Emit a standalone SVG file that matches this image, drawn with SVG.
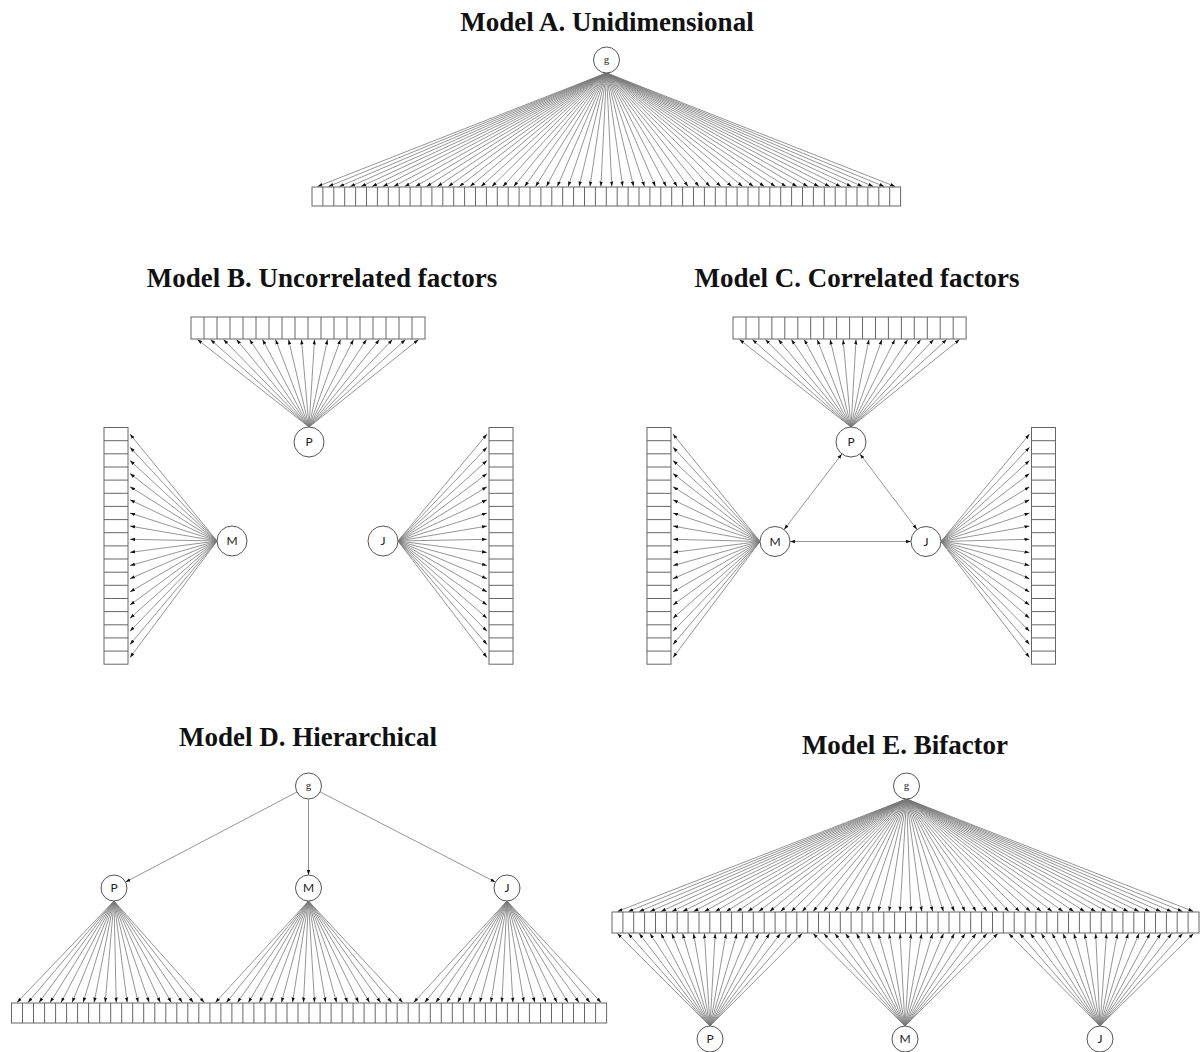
<svg xmlns="http://www.w3.org/2000/svg" width="1201" height="1052" viewBox="0 0 1201 1052">
<style>
.t{font-family:"Liberation Serif","Times New Roman",serif;font-weight:bold;font-size:27px;fill:#111;text-anchor:middle}
.l{stroke:#7a7a7a;stroke-width:0.8;fill:none;marker-end:url(#ah)}
.d{marker-start:url(#ah)}
.c{fill:#fff;stroke:#555;stroke-width:1}
.r{fill:#fff;stroke:#666;stroke-width:1}
.dv{fill:none;stroke:#666;stroke-width:1}
.lb{font-family:Lato,"Open Sans","Liberation Sans",sans-serif;font-size:12px;fill:#222;text-anchor:middle}
.lg{font-family:"Liberation Serif",serif;font-size:11px;fill:#222;text-anchor:middle}
</style>
<defs>
<marker id="ah" viewBox="0 0 6 4" refX="6" refY="2" markerWidth="5" markerHeight="4" markerUnits="userSpaceOnUse" orient="auto-start-reverse"><path d="M0 0L6 2L0 4z" fill="#111"/></marker>
</defs>
<rect width="1201" height="1052" fill="#fff"/>
<g id="titles">
<text class="t" x="607" y="31">Model A. Unidimensional</text>
<text class="t" x="322" y="287">Model B. Uncorrelated factors</text>
<text class="t" x="857" y="287">Model C. Correlated factors</text>
<text class="t" x="308" y="746">Model D. Hierarchical</text>
<text class="t" x="905" y="754">Model E. Bifactor</text>
</g>
<g id="connectors">
<g id="A-loadings">
<path class="l" d="M606.5 73L317.5 186.5"/><path class="l" d="M606.5 73L328.4 186.5"/><path class="l" d="M606.5 73L339.3 186.5"/><path class="l" d="M606.5 73L350.2 186.5"/><path class="l" d="M606.5 73L361.1 186.5"/><path class="l" d="M606.5 73L372 186.5"/><path class="l" d="M606.5 73L382.9 186.5"/><path class="l" d="M606.5 73L393.8 186.5"/><path class="l" d="M606.5 73L404.7 186.5"/><path class="l" d="M606.5 73L415.6 186.5"/><path class="l" d="M606.5 73L426.5 186.5"/><path class="l" d="M606.5 73L437.4 186.5"/><path class="l" d="M606.5 73L448.3 186.5"/><path class="l" d="M606.5 73L459.2 186.5"/><path class="l" d="M606.5 73L470.1 186.5"/><path class="l" d="M606.5 73L481 186.5"/><path class="l" d="M606.5 73L491.9 186.5"/><path class="l" d="M606.5 73L502.8 186.5"/><path class="l" d="M606.5 73L513.7 186.5"/><path class="l" d="M606.5 73L524.6 186.5"/><path class="l" d="M606.5 73L535.5 186.5"/><path class="l" d="M606.5 73L546.4 186.5"/><path class="l" d="M606.5 73L557.3 186.5"/><path class="l" d="M606.5 73L568.2 186.5"/><path class="l" d="M606.5 73L579.1 186.5"/><path class="l" d="M606.5 73L590 186.5"/><path class="l" d="M606.5 73L600.9 186.5"/><path class="l" d="M606.5 73L611.8 186.5"/><path class="l" d="M606.5 73L622.7 186.5"/><path class="l" d="M606.5 73L633.6 186.5"/><path class="l" d="M606.5 73L644.5 186.5"/><path class="l" d="M606.5 73L655.4 186.5"/><path class="l" d="M606.5 73L666.3 186.5"/><path class="l" d="M606.5 73L677.2 186.5"/><path class="l" d="M606.5 73L688.1 186.5"/><path class="l" d="M606.5 73L699 186.5"/><path class="l" d="M606.5 73L709.9 186.5"/><path class="l" d="M606.5 73L720.8 186.5"/><path class="l" d="M606.5 73L731.7 186.5"/><path class="l" d="M606.5 73L742.6 186.5"/><path class="l" d="M606.5 73L753.5 186.5"/><path class="l" d="M606.5 73L764.4 186.5"/><path class="l" d="M606.5 73L775.3 186.5"/><path class="l" d="M606.5 73L786.2 186.5"/><path class="l" d="M606.5 73L797.1 186.5"/><path class="l" d="M606.5 73L808 186.5"/><path class="l" d="M606.5 73L818.9 186.5"/><path class="l" d="M606.5 73L829.8 186.5"/><path class="l" d="M606.5 73L840.7 186.5"/><path class="l" d="M606.5 73L851.6 186.5"/><path class="l" d="M606.5 73L862.5 186.5"/><path class="l" d="M606.5 73L873.4 186.5"/><path class="l" d="M606.5 73L884.3 186.5"/><path class="l" d="M606.5 73L895.2 186.5"/>
</g>
<g id="B-loadings">
<path class="l" d="M309 427L197.5 339.5"/><path class="l" d="M309 427L210.5 339.5"/><path class="l" d="M309 427L223.5 339.5"/><path class="l" d="M309 427L236.5 339.5"/><path class="l" d="M309 427L249.5 339.5"/><path class="l" d="M309 427L262.5 339.5"/><path class="l" d="M309 427L275.5 339.5"/><path class="l" d="M309 427L288.5 339.5"/><path class="l" d="M309 427L301.5 339.5"/><path class="l" d="M309 427L314.5 339.5"/><path class="l" d="M309 427L327.5 339.5"/><path class="l" d="M309 427L340.5 339.5"/><path class="l" d="M309 427L353.5 339.5"/><path class="l" d="M309 427L366.5 339.5"/><path class="l" d="M309 427L379.5 339.5"/><path class="l" d="M309 427L392.5 339.5"/><path class="l" d="M309 427L405.5 339.5"/><path class="l" d="M309 427L418.5 339.5"/>
<path class="l" d="M217 541L130 434.1"/><path class="l" d="M217 541L130 447.2"/><path class="l" d="M217 541L130 460.4"/><path class="l" d="M217 541L130 473.5"/><path class="l" d="M217 541L130 486.7"/><path class="l" d="M217 541L130 499.8"/><path class="l" d="M217 541L130 513"/><path class="l" d="M217 541L130 526.1"/><path class="l" d="M217 541L130 539.3"/><path class="l" d="M217 541L130 552.4"/><path class="l" d="M217 541L130 565.6"/><path class="l" d="M217 541L130 578.7"/><path class="l" d="M217 541L130 591.9"/><path class="l" d="M217 541L130 605"/><path class="l" d="M217 541L130 618.2"/><path class="l" d="M217 541L130 631.3"/><path class="l" d="M217 541L130 644.5"/><path class="l" d="M217 541L130 657.6"/>
<path class="l" d="M398 541L487 434.1"/><path class="l" d="M398 541L487 447.2"/><path class="l" d="M398 541L487 460.4"/><path class="l" d="M398 541L487 473.5"/><path class="l" d="M398 541L487 486.7"/><path class="l" d="M398 541L487 499.8"/><path class="l" d="M398 541L487 513"/><path class="l" d="M398 541L487 526.1"/><path class="l" d="M398 541L487 539.3"/><path class="l" d="M398 541L487 552.4"/><path class="l" d="M398 541L487 565.6"/><path class="l" d="M398 541L487 578.7"/><path class="l" d="M398 541L487 591.9"/><path class="l" d="M398 541L487 605"/><path class="l" d="M398 541L487 618.2"/><path class="l" d="M398 541L487 631.3"/><path class="l" d="M398 541L487 644.5"/><path class="l" d="M398 541L487 657.6"/>
</g>
<g id="C-loadings">
<path class="l" d="M851 427L739.5 339.5"/><path class="l" d="M851 427L752.4 339.5"/><path class="l" d="M851 427L765.4 339.5"/><path class="l" d="M851 427L778.3 339.5"/><path class="l" d="M851 427L791.3 339.5"/><path class="l" d="M851 427L804.2 339.5"/><path class="l" d="M851 427L817.2 339.5"/><path class="l" d="M851 427L830.1 339.5"/><path class="l" d="M851 427L843.1 339.5"/><path class="l" d="M851 427L856 339.5"/><path class="l" d="M851 427L869 339.5"/><path class="l" d="M851 427L881.9 339.5"/><path class="l" d="M851 427L894.9 339.5"/><path class="l" d="M851 427L907.8 339.5"/><path class="l" d="M851 427L920.8 339.5"/><path class="l" d="M851 427L933.7 339.5"/><path class="l" d="M851 427L946.7 339.5"/><path class="l" d="M851 427L959.6 339.5"/>
<path class="l" d="M760 541.5L673 434.1"/><path class="l" d="M760 541.5L673 447.2"/><path class="l" d="M760 541.5L673 460.4"/><path class="l" d="M760 541.5L673 473.5"/><path class="l" d="M760 541.5L673 486.7"/><path class="l" d="M760 541.5L673 499.8"/><path class="l" d="M760 541.5L673 513"/><path class="l" d="M760 541.5L673 526.1"/><path class="l" d="M760 541.5L673 539.3"/><path class="l" d="M760 541.5L673 552.4"/><path class="l" d="M760 541.5L673 565.6"/><path class="l" d="M760 541.5L673 578.7"/><path class="l" d="M760 541.5L673 591.9"/><path class="l" d="M760 541.5L673 605"/><path class="l" d="M760 541.5L673 618.2"/><path class="l" d="M760 541.5L673 631.3"/><path class="l" d="M760 541.5L673 644.5"/><path class="l" d="M760 541.5L673 657.6"/>
<path class="l" d="M941 541.5L1029.5 434.1"/><path class="l" d="M941 541.5L1029.5 447.2"/><path class="l" d="M941 541.5L1029.5 460.4"/><path class="l" d="M941 541.5L1029.5 473.5"/><path class="l" d="M941 541.5L1029.5 486.7"/><path class="l" d="M941 541.5L1029.5 499.8"/><path class="l" d="M941 541.5L1029.5 513"/><path class="l" d="M941 541.5L1029.5 526.1"/><path class="l" d="M941 541.5L1029.5 539.3"/><path class="l" d="M941 541.5L1029.5 552.4"/><path class="l" d="M941 541.5L1029.5 565.6"/><path class="l" d="M941 541.5L1029.5 578.7"/><path class="l" d="M941 541.5L1029.5 591.9"/><path class="l" d="M941 541.5L1029.5 605"/><path class="l" d="M941 541.5L1029.5 618.2"/><path class="l" d="M941 541.5L1029.5 631.3"/><path class="l" d="M941 541.5L1029.5 644.5"/><path class="l" d="M941 541.5L1029.5 657.6"/>
<path class="l d" d="M841.9 453.9L784.1 529.6"/>
<path class="l d" d="M860 454L917 529.5"/>
<path class="l d" d="M790 541.5L911 541.5"/>
</g>
<g id="D-loadings">
<path class="l" d="M297 792L125.5 882"/>
<path class="l" d="M308.5 799L308.5 875"/>
<path class="l" d="M320.1 791.9L495.4 882.1"/>
<path class="l" d="M114 901L17 1002.5"/><path class="l" d="M114 901L28 1002.5"/><path class="l" d="M114 901L39 1002.5"/><path class="l" d="M114 901L50.1 1002.5"/><path class="l" d="M114 901L61.1 1002.5"/><path class="l" d="M114 901L72.1 1002.5"/><path class="l" d="M114 901L83.1 1002.5"/><path class="l" d="M114 901L94.1 1002.5"/><path class="l" d="M114 901L105.2 1002.5"/><path class="l" d="M114 901L116.2 1002.5"/><path class="l" d="M114 901L127.2 1002.5"/><path class="l" d="M114 901L138.2 1002.5"/><path class="l" d="M114 901L149.2 1002.5"/><path class="l" d="M114 901L160.3 1002.5"/><path class="l" d="M114 901L171.3 1002.5"/><path class="l" d="M114 901L182.3 1002.5"/><path class="l" d="M114 901L193.3 1002.5"/><path class="l" d="M114 901L204.3 1002.5"/>
<path class="l" d="M308.5 901L215.4 1002.5"/><path class="l" d="M308.5 901L226.4 1002.5"/><path class="l" d="M308.5 901L237.4 1002.5"/><path class="l" d="M308.5 901L248.4 1002.5"/><path class="l" d="M308.5 901L259.4 1002.5"/><path class="l" d="M308.5 901L270.5 1002.5"/><path class="l" d="M308.5 901L281.5 1002.5"/><path class="l" d="M308.5 901L292.5 1002.5"/><path class="l" d="M308.5 901L303.5 1002.5"/><path class="l" d="M308.5 901L314.5 1002.5"/><path class="l" d="M308.5 901L325.6 1002.5"/><path class="l" d="M308.5 901L336.6 1002.5"/><path class="l" d="M308.5 901L347.6 1002.5"/><path class="l" d="M308.5 901L358.6 1002.5"/><path class="l" d="M308.5 901L369.6 1002.5"/><path class="l" d="M308.5 901L380.7 1002.5"/><path class="l" d="M308.5 901L391.7 1002.5"/><path class="l" d="M308.5 901L402.7 1002.5"/>
<path class="l" d="M507 901L413.7 1002.5"/><path class="l" d="M507 901L424.7 1002.5"/><path class="l" d="M507 901L435.8 1002.5"/><path class="l" d="M507 901L446.8 1002.5"/><path class="l" d="M507 901L457.8 1002.5"/><path class="l" d="M507 901L468.8 1002.5"/><path class="l" d="M507 901L479.8 1002.5"/><path class="l" d="M507 901L490.9 1002.5"/><path class="l" d="M507 901L501.9 1002.5"/><path class="l" d="M507 901L512.9 1002.5"/><path class="l" d="M507 901L523.9 1002.5"/><path class="l" d="M507 901L534.9 1002.5"/><path class="l" d="M507 901L546 1002.5"/><path class="l" d="M507 901L557 1002.5"/><path class="l" d="M507 901L568 1002.5"/><path class="l" d="M507 901L579 1002.5"/><path class="l" d="M507 901L590 1002.5"/><path class="l" d="M507 901L601.1 1002.5"/>
</g>
<g id="E-loadings">
<path class="l" d="M906.5 799L617.4 911.5"/><path class="l" d="M906.5 799L628.3 911.5"/><path class="l" d="M906.5 799L639.2 911.5"/><path class="l" d="M906.5 799L650 911.5"/><path class="l" d="M906.5 799L660.9 911.5"/><path class="l" d="M906.5 799L671.8 911.5"/><path class="l" d="M906.5 799L682.6 911.5"/><path class="l" d="M906.5 799L693.5 911.5"/><path class="l" d="M906.5 799L704.4 911.5"/><path class="l" d="M906.5 799L715.2 911.5"/><path class="l" d="M906.5 799L726.1 911.5"/><path class="l" d="M906.5 799L737 911.5"/><path class="l" d="M906.5 799L747.8 911.5"/><path class="l" d="M906.5 799L758.7 911.5"/><path class="l" d="M906.5 799L769.6 911.5"/><path class="l" d="M906.5 799L780.5 911.5"/><path class="l" d="M906.5 799L791.3 911.5"/><path class="l" d="M906.5 799L802.2 911.5"/><path class="l" d="M906.5 799L813.1 911.5"/><path class="l" d="M906.5 799L823.9 911.5"/><path class="l" d="M906.5 799L834.8 911.5"/><path class="l" d="M906.5 799L845.7 911.5"/><path class="l" d="M906.5 799L856.5 911.5"/><path class="l" d="M906.5 799L867.4 911.5"/><path class="l" d="M906.5 799L878.3 911.5"/><path class="l" d="M906.5 799L889.1 911.5"/><path class="l" d="M906.5 799L900 911.5"/><path class="l" d="M906.5 799L910.9 911.5"/><path class="l" d="M906.5 799L921.7 911.5"/><path class="l" d="M906.5 799L932.6 911.5"/><path class="l" d="M906.5 799L943.5 911.5"/><path class="l" d="M906.5 799L954.4 911.5"/><path class="l" d="M906.5 799L965.2 911.5"/><path class="l" d="M906.5 799L976.1 911.5"/><path class="l" d="M906.5 799L987 911.5"/><path class="l" d="M906.5 799L997.8 911.5"/><path class="l" d="M906.5 799L1008.7 911.5"/><path class="l" d="M906.5 799L1019.6 911.5"/><path class="l" d="M906.5 799L1030.4 911.5"/><path class="l" d="M906.5 799L1041.3 911.5"/><path class="l" d="M906.5 799L1052.2 911.5"/><path class="l" d="M906.5 799L1063.1 911.5"/><path class="l" d="M906.5 799L1073.9 911.5"/><path class="l" d="M906.5 799L1084.8 911.5"/><path class="l" d="M906.5 799L1095.7 911.5"/><path class="l" d="M906.5 799L1106.5 911.5"/><path class="l" d="M906.5 799L1117.4 911.5"/><path class="l" d="M906.5 799L1128.3 911.5"/><path class="l" d="M906.5 799L1139.1 911.5"/><path class="l" d="M906.5 799L1150 911.5"/><path class="l" d="M906.5 799L1160.9 911.5"/><path class="l" d="M906.5 799L1171.7 911.5"/><path class="l" d="M906.5 799L1182.6 911.5"/><path class="l" d="M906.5 799L1193.5 911.5"/>
<path class="l" d="M710 1026L617.4 933.5"/><path class="l" d="M710 1026L628.3 933.5"/><path class="l" d="M710 1026L639.2 933.5"/><path class="l" d="M710 1026L650 933.5"/><path class="l" d="M710 1026L660.9 933.5"/><path class="l" d="M710 1026L671.8 933.5"/><path class="l" d="M710 1026L682.6 933.5"/><path class="l" d="M710 1026L693.5 933.5"/><path class="l" d="M710 1026L704.4 933.5"/><path class="l" d="M710 1026L715.2 933.5"/><path class="l" d="M710 1026L726.1 933.5"/><path class="l" d="M710 1026L737 933.5"/><path class="l" d="M710 1026L747.8 933.5"/><path class="l" d="M710 1026L758.7 933.5"/><path class="l" d="M710 1026L769.6 933.5"/><path class="l" d="M710 1026L780.5 933.5"/><path class="l" d="M710 1026L791.3 933.5"/><path class="l" d="M710 1026L802.2 933.5"/>
<path class="l" d="M905 1026L813.1 933.5"/><path class="l" d="M905 1026L823.9 933.5"/><path class="l" d="M905 1026L834.8 933.5"/><path class="l" d="M905 1026L845.7 933.5"/><path class="l" d="M905 1026L856.5 933.5"/><path class="l" d="M905 1026L867.4 933.5"/><path class="l" d="M905 1026L878.3 933.5"/><path class="l" d="M905 1026L889.1 933.5"/><path class="l" d="M905 1026L900 933.5"/><path class="l" d="M905 1026L910.9 933.5"/><path class="l" d="M905 1026L921.7 933.5"/><path class="l" d="M905 1026L932.6 933.5"/><path class="l" d="M905 1026L943.5 933.5"/><path class="l" d="M905 1026L954.4 933.5"/><path class="l" d="M905 1026L965.2 933.5"/><path class="l" d="M905 1026L976.1 933.5"/><path class="l" d="M905 1026L987 933.5"/><path class="l" d="M905 1026L997.8 933.5"/>
<path class="l" d="M1100 1026L1008.7 933.5"/><path class="l" d="M1100 1026L1019.6 933.5"/><path class="l" d="M1100 1026L1030.4 933.5"/><path class="l" d="M1100 1026L1041.3 933.5"/><path class="l" d="M1100 1026L1052.2 933.5"/><path class="l" d="M1100 1026L1063.1 933.5"/><path class="l" d="M1100 1026L1073.9 933.5"/><path class="l" d="M1100 1026L1084.8 933.5"/><path class="l" d="M1100 1026L1095.7 933.5"/><path class="l" d="M1100 1026L1106.5 933.5"/><path class="l" d="M1100 1026L1117.4 933.5"/><path class="l" d="M1100 1026L1128.3 933.5"/><path class="l" d="M1100 1026L1139.1 933.5"/><path class="l" d="M1100 1026L1150 933.5"/><path class="l" d="M1100 1026L1160.9 933.5"/><path class="l" d="M1100 1026L1171.7 933.5"/><path class="l" d="M1100 1026L1182.6 933.5"/><path class="l" d="M1100 1026L1193.5 933.5"/>
</g>
</g>
<g id="A-items"><rect class="r" x="312" y="187" width="588.6" height="19"/><path class="dv" d="M322.9 187v19M333.8 187v19M344.7 187v19M355.6 187v19M366.5 187v19M377.4 187v19M388.3 187v19M399.2 187v19M410.1 187v19M421 187v19M431.9 187v19M442.8 187v19M453.7 187v19M464.6 187v19M475.5 187v19M486.4 187v19M497.3 187v19M508.2 187v19M519.1 187v19M530 187v19M540.9 187v19M551.8 187v19M562.7 187v19M573.6 187v19M584.5 187v19M595.4 187v19M606.3 187v19M617.2 187v19M628.1 187v19M639 187v19M649.9 187v19M660.8 187v19M671.7 187v19M682.6 187v19M693.5 187v19M704.4 187v19M715.3 187v19M726.2 187v19M737.1 187v19M748 187v19M758.9 187v19M769.8 187v19M780.7 187v19M791.6 187v19M802.5 187v19M813.4 187v19M824.3 187v19M835.2 187v19M846.1 187v19M857 187v19M867.9 187v19M878.8 187v19M889.7 187v19"/></g>
<g id="A-g"><circle class="c" cx="606.5" cy="60" r="13"/><text class="lg" x="606.5" y="63">g</text></g>
<g id="B-P-items"><rect class="r" x="191" y="317" width="234" height="22"/><path class="dv" d="M204 317v22M217 317v22M230 317v22M243 317v22M256 317v22M269 317v22M282 317v22M295 317v22M308 317v22M321 317v22M334 317v22M347 317v22M360 317v22M373 317v22M386 317v22M399 317v22M412 317v22"/></g>
<g id="B-M-items"><rect class="r" x="104" y="427.5" width="24" height="236.7"/><path class="dv" d="M104 440.7h24M104 453.8h24M104 467h24M104 480.1h24M104 493.3h24M104 506.4h24M104 519.6h24M104 532.7h24M104 545.9h24M104 559h24M104 572.2h24M104 585.3h24M104 598.5h24M104 611.6h24M104 624.8h24M104 637.9h24M104 651.1h24"/></g>
<g id="B-J-items"><rect class="r" x="489" y="427.5" width="24" height="236.7"/><path class="dv" d="M489 440.7h24M489 453.8h24M489 467h24M489 480.1h24M489 493.3h24M489 506.4h24M489 519.6h24M489 532.7h24M489 545.9h24M489 559h24M489 572.2h24M489 585.3h24M489 598.5h24M489 611.6h24M489 624.8h24M489 637.9h24M489 651.1h24"/></g>
<g id="B-P"><circle class="c" cx="309" cy="442" r="15"/><text class="lb" x="309" y="446">P</text></g>
<g id="B-M"><circle class="c" cx="232" cy="541" r="15"/><text class="lb" x="232" y="545">M</text></g>
<g id="B-J"><circle class="c" cx="383" cy="541" r="15"/><text class="lb" x="383" y="545">J</text></g>
<g id="C-P-items"><rect class="r" x="733" y="317" width="233.1" height="22"/><path class="dv" d="M746 317v22M758.9 317v22M771.9 317v22M784.8 317v22M797.8 317v22M810.7 317v22M823.7 317v22M836.6 317v22M849.6 317v22M862.5 317v22M875.5 317v22M888.4 317v22M901.4 317v22M914.3 317v22M927.3 317v22M940.2 317v22M953.2 317v22"/></g>
<g id="C-M-items"><rect class="r" x="647" y="427.5" width="24" height="236.7"/><path class="dv" d="M647 440.7h24M647 453.8h24M647 467h24M647 480.1h24M647 493.3h24M647 506.4h24M647 519.6h24M647 532.7h24M647 545.9h24M647 559h24M647 572.2h24M647 585.3h24M647 598.5h24M647 611.6h24M647 624.8h24M647 637.9h24M647 651.1h24"/></g>
<g id="C-J-items"><rect class="r" x="1031.5" y="427.5" width="24" height="236.7"/><path class="dv" d="M1031.5 440.7h24M1031.5 453.8h24M1031.5 467h24M1031.5 480.1h24M1031.5 493.3h24M1031.5 506.4h24M1031.5 519.6h24M1031.5 532.7h24M1031.5 545.9h24M1031.5 559h24M1031.5 572.2h24M1031.5 585.3h24M1031.5 598.5h24M1031.5 611.6h24M1031.5 624.8h24M1031.5 637.9h24M1031.5 651.1h24"/></g>
<g id="C-P"><circle class="c" cx="851" cy="442" r="15"/><text class="lb" x="851" y="446">P</text></g>
<g id="C-M"><circle class="c" cx="775" cy="541.5" r="15"/><text class="lb" x="775" y="545.5">M</text></g>
<g id="C-J"><circle class="c" cx="926" cy="541.5" r="15"/><text class="lb" x="926" y="545.5">J</text></g>
<g id="D-items"><rect class="r" x="11.5" y="1003" width="595.1" height="20"/><path class="dv" d="M22.5 1003v20M33.5 1003v20M44.6 1003v20M55.6 1003v20M66.6 1003v20M77.6 1003v20M88.6 1003v20M99.7 1003v20M110.7 1003v20M121.7 1003v20M132.7 1003v20M143.7 1003v20M154.8 1003v20M165.8 1003v20M176.8 1003v20M187.8 1003v20M198.8 1003v20M209.9 1003v20M220.9 1003v20M231.9 1003v20M242.9 1003v20M253.9 1003v20M265 1003v20M276 1003v20M287 1003v20M298 1003v20M309 1003v20M320.1 1003v20M331.1 1003v20M342.1 1003v20M353.1 1003v20M364.1 1003v20M375.2 1003v20M386.2 1003v20M397.2 1003v20M408.2 1003v20M419.2 1003v20M430.3 1003v20M441.3 1003v20M452.3 1003v20M463.3 1003v20M474.3 1003v20M485.4 1003v20M496.4 1003v20M507.4 1003v20M518.4 1003v20M529.4 1003v20M540.5 1003v20M551.5 1003v20M562.5 1003v20M573.5 1003v20M584.5 1003v20M595.6 1003v20"/></g>
<g id="D-g"><circle class="c" cx="308.5" cy="786" r="13"/><text class="lg" x="308.5" y="789">g</text></g>
<g id="D-P"><circle class="c" cx="114" cy="888" r="13"/><text class="lb" x="114" y="892">P</text></g>
<g id="D-M"><circle class="c" cx="308.5" cy="888" r="13"/><text class="lb" x="308.5" y="892">M</text></g>
<g id="D-J"><circle class="c" cx="507" cy="888" r="13"/><text class="lb" x="507" y="892">J</text></g>
<g id="E-items"><rect class="r" x="612" y="912" width="587" height="21"/><path class="dv" d="M622.9 912v21M633.7 912v21M644.6 912v21M655.5 912v21M666.4 912v21M677.2 912v21M688.1 912v21M699 912v21M709.8 912v21M720.7 912v21M731.6 912v21M742.4 912v21M753.3 912v21M764.2 912v21M775.1 912v21M785.9 912v21M796.8 912v21M807.7 912v21M818.5 912v21M829.4 912v21M840.3 912v21M851.1 912v21M862 912v21M872.9 912v21M883.8 912v21M894.6 912v21M905.5 912v21M916.4 912v21M927.2 912v21M938.1 912v21M949 912v21M959.8 912v21M970.7 912v21M981.6 912v21M992.5 912v21M1003.3 912v21M1014.2 912v21M1025.1 912v21M1035.9 912v21M1046.8 912v21M1057.7 912v21M1068.5 912v21M1079.4 912v21M1090.3 912v21M1101.2 912v21M1112 912v21M1122.9 912v21M1133.8 912v21M1144.6 912v21M1155.5 912v21M1166.4 912v21M1177.2 912v21M1188.1 912v21"/></g>
<g id="E-g"><circle class="c" cx="906.5" cy="786" r="13"/><text class="lg" x="906.5" y="789">g</text></g>
<g id="E-P"><circle class="c" cx="710" cy="1039" r="13"/><text class="lb" x="710" y="1043">P</text></g>
<g id="E-M"><circle class="c" cx="905" cy="1039" r="13"/><text class="lb" x="905" y="1043">M</text></g>
<g id="E-J"><circle class="c" cx="1100" cy="1039" r="13"/><text class="lb" x="1100" y="1043">J</text></g>
</svg>
